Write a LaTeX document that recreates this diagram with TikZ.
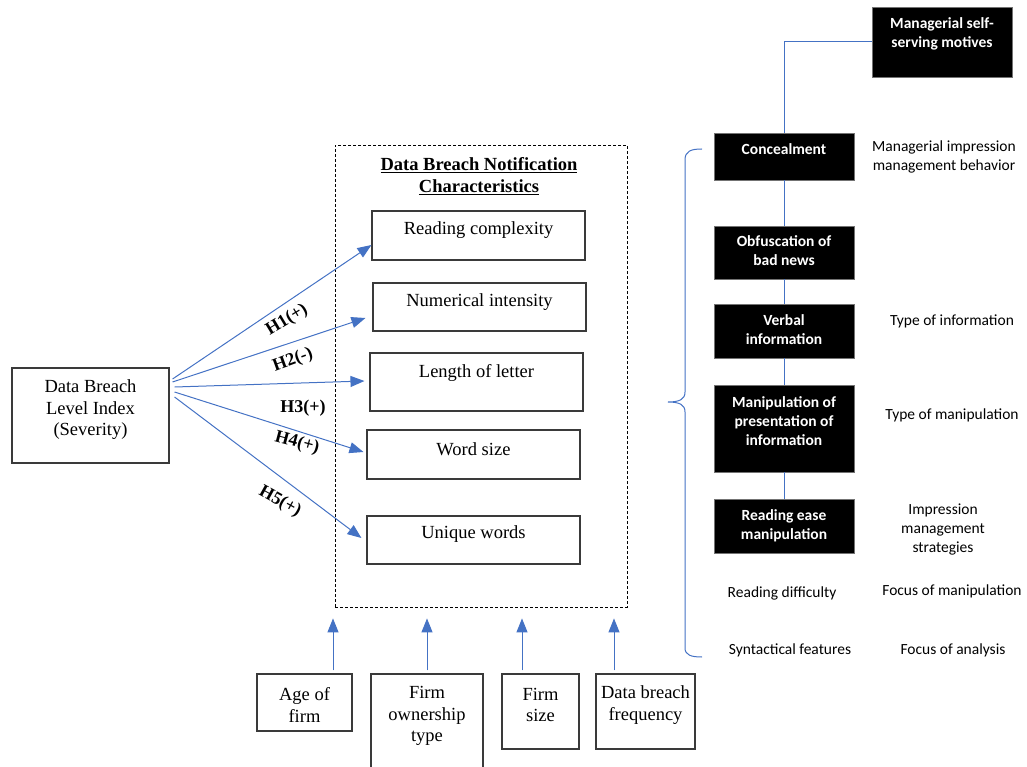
\documentclass[tikz,border=0pt]{standalone}
\usepackage{fontspec}
\setmainfont{Liberation Serif}
\newfontfamily\calib{Carlito}
\usetikzlibrary{arrows.meta,calc}
\definecolor{arrblue}{HTML}{4472C4}
\definecolor{boxgray}{HTML}{3A3A3A}
\begin{document}
\begin{tikzpicture}[x=1pt,y=-1pt,
 sbox/.style={draw=boxgray, line width=1.1pt, inner sep=0, rectangle},
 stext/.style={font=\fontsize{18.5}{21.5}\selectfont, align=center, inner sep=0},
 bbox/.style={fill=black, draw=black!55, line width=0.8pt, inner sep=0, rectangle},
 wtext/.style={font=\calib\bfseries\fontsize{15.5}{19}\selectfont, text=white, align=center, inner sep=0},
 ctext/.style={font=\calib\fontsize{15.5}{19}\selectfont, align=center, inner sep=0},
 harr/.style={draw=arrblue, line width=1pt, -{Triangle[length=14pt,width=11pt]}},
 hlab/.style={font=\bfseries\fontsize{18}{21}\selectfont, inner sep=0},
 link/.style={draw=arrblue, line width=1pt}
]
\useasboundingbox (0,0) rectangle (1027,767);

% dashed container
\node[draw=black, dash pattern=on 3pt off 2pt, line width=0.8pt, minimum width=292pt, minimum height=462pt, inner sep=0] (dash) at (481,376) {};
\node[font=\bfseries\fontsize{18.5}{22}\selectfont, align=center, inner sep=0] (title) at (479,176) {\underline{Data Breach Notification}\\\underline{Characteristics}};

% left source box
\node[sbox, minimum width=157pt, minimum height=95pt] (db) at (90.5,415.5) {};
\node[stext] (dbt) at (90.5,410) {Data Breach\\Level Index\\(Severity)};

% characteristic boxes
\node[sbox, minimum width=213pt, minimum height=49pt] (rc) at (478.5,235.5) {};
\node[stext] (rct) at (478.5,230) {Reading complexity};
\node[sbox, minimum width=213pt, minimum height=48pt] (ni) at (479.5,307) {};
\node[stext] (nit) at (479.5,302) {Numerical intensity};
\node[sbox, minimum width=213pt, minimum height=58pt] (ll) at (476.5,382) {};
\node[stext] (llt) at (476.5,373) {Length of letter};
\node[sbox, minimum width=213pt, minimum height=49pt] (ws) at (473.5,454.5) {};
\node[stext] (wst) at (473.5,449) {Word size};
\node[sbox, minimum width=213pt, minimum height=48pt] (uw) at (473.5,540) {};
\node[stext] (uwt) at (473.5,534) {Unique words};

% hypothesis arrows
\draw[harr] ([xshift=3pt,yshift=36.5pt]db.east) -- ([yshift=-9.5pt]rc.west);
\draw[harr] ([xshift=3pt,yshift=33.5pt]db.east) -- ([xshift=-7pt,yshift=-11pt]ni.west);
\draw[harr] ([xshift=5pt,yshift=28.5pt]db.east) -- ([xshift=-5pt,yshift=1pt]ll.west);
\draw[harr] ([xshift=5pt,yshift=23.5pt]db.east) -- ([xshift=-3pt,yshift=2.5pt]ws.west);
\draw[harr] ([xshift=5pt,yshift=18.5pt]db.east) -- ([xshift=-5pt,yshift=2pt]uw.west);

\node[hlab, rotate=31] (h1) at (287,320) {H1(+)};
\node[hlab, rotate=20] (h2) at (293,360) {H2(-)};
\node[hlab] (h3) at (303,408) {H3(+)};
\node[hlab, rotate=-15] (h4) at (297,443) {H4(+)};
\node[hlab, rotate=-29] (h5) at (280,502) {H5(+)};

% bottom control boxes
\node[sbox, minimum width=95pt, minimum height=57pt] (af) at (304.5,702.5) {};
\node[stext] (aft) at (304.5,705) {Age of\\firm};
\node[sbox, minimum width=112pt, minimum height=106pt] (fo) at (427,727) {};
\node[stext] (fot) at (427,716) {Firm\\ownership\\type};
\node[sbox, minimum width=77pt, minimum height=75pt] (fs) at (540.5,711.5) {};
\node[stext] (fst) at (540.5,705) {Firm\\size};
\node[sbox, minimum width=99pt, minimum height=75pt] (df) at (645.5,711.5) {};
\node[stext] (dft) at (645.5,705) {Data breach\\frequency};

\draw[harr] ([xshift=28.5pt,yshift=3pt]af.north) -- ([xshift=-148pt,yshift=-11pt]dash.south);
\draw[harr] ([yshift=3pt]fo.north) -- ([xshift=-54pt,yshift=-11pt]dash.south);
\draw[harr] ([xshift=-18.5pt,yshift=3pt]fs.north) -- ([xshift=41pt,yshift=-11pt]dash.south);
\draw[harr] ([xshift=-31.5pt,yshift=3pt]df.north) -- ([xshift=133pt,yshift=-11pt]dash.south);

% right side chain
\node[bbox, minimum width=140pt, minimum height=70pt] (ms) at (942,42) {};
\node[wtext] (mst) at (942,33.5) {Managerial self-\\serving motives};
\node[bbox, minimum width=140pt, minimum height=47pt] (cc) at (784,156.5) {};
\node[wtext] (cct) at (784,149) {Concealment};
\node[bbox, minimum width=140pt, minimum height=53pt] (ob) at (784,252.5) {};
\node[wtext] (obt) at (784,250.5) {Obfuscation of\\bad news};
\node[bbox, minimum width=140pt, minimum height=54pt] (vi) at (784,331) {};
\node[wtext] (vit) at (784,329.5) {Verbal\\information};
\node[bbox, minimum width=140pt, minimum height=87pt] (mp) at (784,428.5) {};
\node[wtext] (mpt) at (784,421) {Manipulation of\\presentation of\\information};
\node[bbox, minimum width=140pt, minimum height=54pt] (re) at (784,526) {};
\node[wtext] (ret) at (784,525.5) {Reading ease\\manipulation};

\draw[link] (ms.west) -| (cc.north);
\draw[link] (cc.south) -- (ob.north);
\draw[link] (ob.south) -- (vi.north);
\draw[link] (vi.south) -- (mp.north);
\draw[link] (mp.south) -- (re.north);

% right labels
\node[ctext] (mib) at (944,156.5) {Managerial impression\\management behavior};
\node[ctext] (toi) at (952,321) {Type of information};
\node[ctext] (tom) at (952,415) {Type of manipulation};
\node[ctext] (ims) at (943,529) {Impression\\management\\strategies};
\node[ctext] (fom) at (952,591) {Focus of manipulation};
\node[ctext] (rd) at (782,593) {Reading difficulty};
\node[ctext] (sf) at (790,650) {Syntactical features};
\node[ctext] (foa) at (953,650) {Focus of analysis};

% brace
\draw[link] (702,149) .. controls (691,149) and (685,151) .. (685,160) -- (685,392)
  .. controls (685,399) and (680,402) .. (668,402)
  .. controls (680,402) and (685,405) .. (685,412) -- (685,648)
  .. controls (685,655) and (691,657) .. (702,657);
\end{tikzpicture}
\end{document}
